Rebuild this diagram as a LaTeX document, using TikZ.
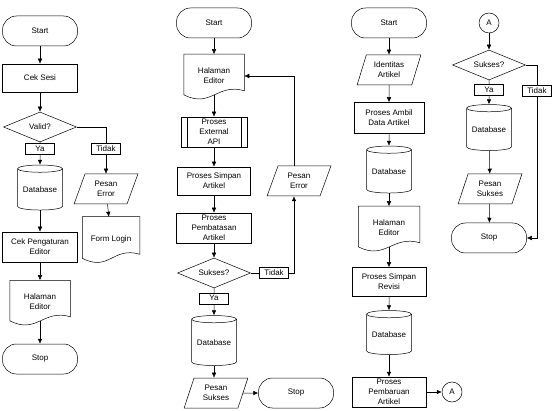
\documentclass[tikz,border=0pt]{standalone}
\usepackage{fontspec}
\setmainfont{Liberation Sans}
\usetikzlibrary{shapes.geometric,arrows.meta}
\tikzset{
    base/.style={draw,align=center,font=\fontsize{8}{10}\selectfont,inner sep=1pt},
    term/.style={base,rectangle,rounded corners=14pt,minimum width=75pt,minimum height=30pt},
    proc/.style={base,rectangle,minimum width=74pt,minimum height=29pt},
    subp/.style={proc,minimum width=66pt,minimum height=30pt,
        path picture={
            \draw ([xshift=6pt]path picture bounding box.north west) -- ([xshift=6pt]path picture bounding box.south west);
            \draw ([xshift=-6pt]path picture bounding box.north east) -- ([xshift=-6pt]path picture bounding box.south east);
        }},
    dec/.style={base,diamond,aspect=2.4,minimum width=73pt,minimum height=30pt,inner sep=0pt},
    io/.style={base,trapezium,trapezium left angle=70,trapezium right angle=110,
        trapezium stretches=true,minimum width=64pt,minimum height=30pt},
    db/.style={base,cylinder,shape border rotate=90,aspect=0.2,minimum width=45pt,minimum height=46pt},
    doc/.style={base,draw=none,rectangle,minimum width=60pt,minimum height=43pt},
    lbl/.style={base,fill=white,minimum width=29pt,minimum height=11pt,inner sep=0pt},
    conn/.style={base,circle,minimum size=20pt,inner sep=0pt}
}
\begin{document}
\begin{tikzpicture}[x=1pt,y=-1pt,line width=0.5pt,>={Latex[length=5pt,width=4.5pt]}]
    \useasboundingbox (0,0) rectangle (556,411);
    % kolom 1
    \node [term] (st1) at (40,31) {Start};
    \node [proc,minimum width=75pt,minimum height=28pt] (cek) at (40,78) {Cek Sesi};
    \node [dec] (val) at (40,127) {Valid?};
    \node [db,minimum height=45pt] (db1) at (40,190) {Database};
    \node [proc,minimum width=75pt,minimum height=30pt] (cpe) at (40,247) {Cek Pengaturan\\Editor};
    \node [doc] (hal1) at (40,302) {Halaman\\Editor};
    \node [term] (sp1) at (40,359) {Stop};
    \node [io] (pe1) at (106,189) {Pesan\\Error};
    \node [doc,minimum width=57pt,minimum height=44pt] (frm) at (111,239) {Form Login};
    % kolom 2
    \node [term] (st2) at (214,23) {Start};
    \node [doc] (hal2) at (214,76) {Halaman\\Editor};
    \node [subp] (api) at (214,132) {Proses\\External\\API};
    \node [proc,minimum width=73pt,minimum height=28pt] (sim2) at (214,181) {Proses Simpan\\Artikel};
    \node [proc,minimum width=75pt,minimum height=30pt] (bat) at (214,228) {Proses\\Pembatasan\\Artikel};
    \node [dec] (sks2) at (214,273) {Sukses?};
    \node [db,minimum height=50pt] (db2) at (214,343) {Database};
    \node [io] (ps2) at (216,393) {Pesan\\Sukses};
    \node [term] (sp2) at (296,393) {Stop};
    \node [io] (pe2) at (299,181) {Pesan\\Error};
    % kolom 3
    \node [term] (st3) at (389,23) {Start};
    \node [io] (ida) at (389,70) {Identitas\\Artikel};
    \node [proc,minimum width=70pt,minimum height=31pt] (amb) at (389,118) {Proses Ambil\\Data Artikel};
    \node [db,minimum height=47pt] (db3) at (389,172) {Database};
    \node [doc,minimum width=61pt] (hal3) at (389,228) {Halaman\\Editor};
    \node [proc] (sim3) at (389,282) {Proses Simpan\\Revisi};
    \node [db,minimum height=44pt] (db4) at (389,335) {Database};
    \node [proc,minimum height=30pt] (pbr) at (389,392) {Proses\\Pembaruan\\Artikel};
    \node [conn] (ca) at (452,392) {A};
    % kolom 4
    \node [conn] (cb) at (489,23) {A};
    \node [dec] (sks4) at (489,65) {Sukses?};
    \node [db] (db5) at (489,130) {Database};
    \node [io] (ps4) at (490,189) {Pesan\\Sukses};
    \node [term] (sp4) at (489,238) {Stop};
    \coordinate (tk) at (537,238);

    % garis bawah dokumen
    \foreach \d in {hal1,frm,hal2,hal3} {
        \draw (\d.north west) -- (\d.north east) -- ([yshift=7pt]\d.south east)
            .. controls +(-27pt,8pt) and +(27pt,-14pt) .. ([yshift=3pt]\d.south west) -- cycle;
    }

    % panah
    \foreach \a/\b in {st1/cek,cek/val,db1/cpe,cpe/hal1,pe1/frm,
                       st2/hal2,api/sim2,sim2/bat,bat/sks2,ps2/sp2,
                       st3/ida,ida/amb,amb/db3,db3/hal3,sim3/db4,db4/pbr,pbr/ca,
                       cb/sks4,db5/ps4,ps4/sp4} {
        \draw [->] (\a) -- (\b);
    }
    \foreach \a/\b in {hal1/sp1,hal2/api,hal3/sim3} {
        \draw [->,shorten <=-3pt] (\a) -- (\b);
    }
    \draw [->] (db2) -- (db2 |- ps2.north);
    \draw [->] (val) -- node [lbl,pos=.3] {Ya} (db1);
    \draw [->] (val.east) -| node [lbl,pos=.73] {Tidak} (pe1.north);
    \draw [->] (sks2) -- node [lbl,pos=.37] {Ya} (db2);
    \draw [->] (sks2.east) -| node [lbl,pos=.27] {Tidak} ([xshift=-5pt]pe2.south);
    \draw [->] ([xshift=-5pt]pe2.north) |- (hal2.east);
    \draw [->] (sks4) -- node [lbl,pos=.41] {Ya} (db5);
    \draw [->] (sks4.east) -| node [lbl,pos=.575] {Tidak} (tk) -- (sp4.east);
\end{tikzpicture}
\end{document}
